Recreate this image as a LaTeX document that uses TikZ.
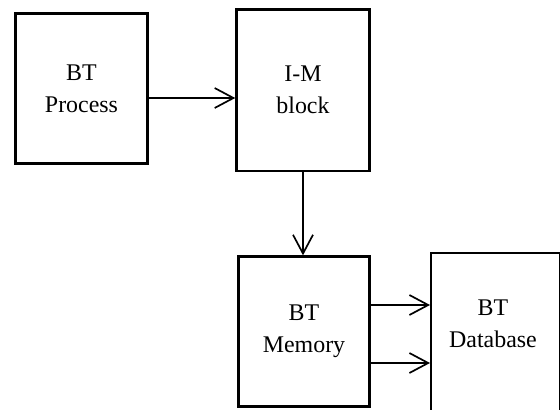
\documentclass[tikz,border=0pt]{standalone}
\usepackage{fontspec}
\setmainfont{Liberation Serif}
\usetikzlibrary{arrows.meta,positioning}
\tikzset{
	blk/.style={draw, line width=1.6pt, align=center, inner sep=0pt,
		font=\fontsize{17}{23}\selectfont},
	arr/.style={line width=1.2pt, -{Straight Barb[length=4.7mm, width=5mm, line width=1.2pt]}}
}

\begin{document}
\begin{tikzpicture}[x=0.025cm, y=-0.025cm]
		%%%%% START %%%%%
		
		\clip (0, 0) rectangle (560, 409);
		
		\node[blk, minimum width=3.3cm, minimum height=3.75cm] (proc) at (81.5, 88.5) {BT\\Process};
		\node[blk, minimum width=3.33cm, minimum height=4.03cm] (im) at (303, 90) {I-M\\block};
		\node[blk, minimum width=3.28cm, minimum height=3.75cm] (mem) at (304, 331.5) {BT\\Memory};
		
		\node[blk, minimum width=3.22cm, minimum height=4.6cm, anchor=north west] (db) at (430, 252) {};
		\node[font=\fontsize{17}{23}\selectfont, align=center] (dbtxt) at (493, 324) {BT\\Database};
		
		\draw[arr] (proc.east |- 0, 98) -- (im.west |- 0, 98);
		\draw[arr] (im.south) -- (im.south |- mem.north);
		
		\draw[arr] (mem.east |- 0, 305) -- (db.west |- 0, 305);
		\draw[arr] (mem.east |- 0, 363) -- (db.west |- 0, 363);
		
		%%%%% END %%%%%
	\end{tikzpicture}
\end{document}
